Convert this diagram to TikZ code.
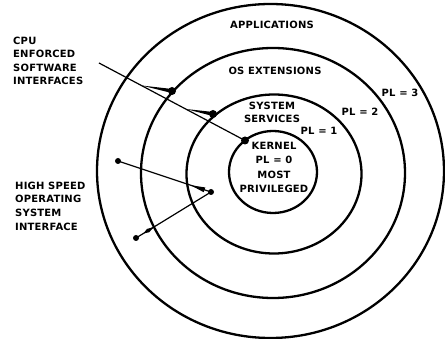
\documentclass[tikz,border=0pt]{standalone}
\usepackage{fontspec}
\newfontfamily\lblfont[LetterSpace=2]{DejaVu Sans}
\usetikzlibrary{calc}
\begin{document}
\begin{tikzpicture}[x=1pt,y=-1pt,
  ring/.style={line width=2.3pt},
  lbl/.style={font=\lblfont\bfseries\fontsize{10}{14.3}\selectfont, inner sep=0pt},
  wire/.style={line width=1.2pt},
  bigdot/.style={circle,fill=black,inner sep=0pt,minimum size=8pt},
  smalldot/.style={circle,fill=black,inner sep=0pt,minimum size=6pt}]
\useasboundingbox (0,0) rectangle (445,339);
% rings
\draw[ring] (273,172) ellipse [x radius=44pt, y radius=41pt];
\draw[ring] (274,174) ellipse [x radius=87.5pt, y radius=79.5pt];
\draw[ring] (273,173) ellipse [x radius=132pt, y radius=125pt];
\draw[ring] (270.5,171) ellipse [x radius=173.5pt, y radius=167pt];
% ring texts
\node[lbl] (apps) at (272,25) {APPLICATIONS};
\node[lbl] (osx) at (275,71) {OS EXTENSIONS};
\node[lbl,align=center,anchor=north,font=\lblfont\bfseries\fontsize{10}{13}\selectfont] (sys) at (272,102) {SYSTEM\\SERVICES};
\node[lbl,align=center,anchor=north] (kern) at (274,142) {KERNEL\\PL = 0\\MOST\\PRIVILEGED};
\node[lbl] (pl1) at (319,131) {PL = 1};
\node[lbl] (pl2) at (360,112) {PL = 2};
\node[lbl] (pl3) at (400,93) {PL = 3};
% side labels
\node[lbl,align=left,anchor=north west,font=\lblfont\bfseries\fontsize{10}{13.5}\selectfont] (cpu) at (13,36.5) {CPU\\ENFORCED\\SOFTWARE\\INTERFACES};
\node[lbl,align=left,anchor=north west,font=\lblfont\bfseries\fontsize{10}{13.8}\selectfont] (hs) at (15,181.5) {HIGH SPEED\\OPERATING\\SYSTEM\\INTERFACE};
% CPU enforced interfaces
\node[bigdot] (d1) at (172,91) {};
\node[bigdot] (d2) at (213,114) {};
\node[bigdot] (d0) at (245,140.5) {};
\coordinate (s) at (99,63);
\draw[wire] (s) -- (d0.center);
\coordinate (p1) at ($(s)!0.29!(d0)$);
\coordinate (p2) at ($(s)!0.593!(d0)$);
\fill (p1) -- ($(d1)!2pt!90:(p1)$) -- ($(d1)!2pt!-90:(p1)$) -- cycle;
\fill (p2) -- ($(d2)!2pt!90:(p2)$) -- ($(d2)!2pt!-90:(p2)$) -- cycle;
% high speed interface
\node[smalldot] (a) at (118,161) {};
\node[smalldot] (b) at (211,192) {};
\node[smalldot] (c) at (136,238) {};
\draw[wire] (a.center) -- (b.center) -- (c.center);
\coordinate (w1) at ($(a)!0.93!(b)$);
\fill ($(a)!0.78!(b)$) -- ($(w1)!2.5pt!90:(b)$) -- ($(w1)!2.5pt!-90:(b)$) -- cycle;
\coordinate (w2) at ($(b)!0.84!(c)$);
\fill ($(b)!0.76!(c)$) -- ($(w2)!2pt!90:(c)$) -- ($(b)!0.9!(c)$) -- ($(w2)!2pt!-90:(c)$) -- cycle;
\end{tikzpicture}
\end{document}
